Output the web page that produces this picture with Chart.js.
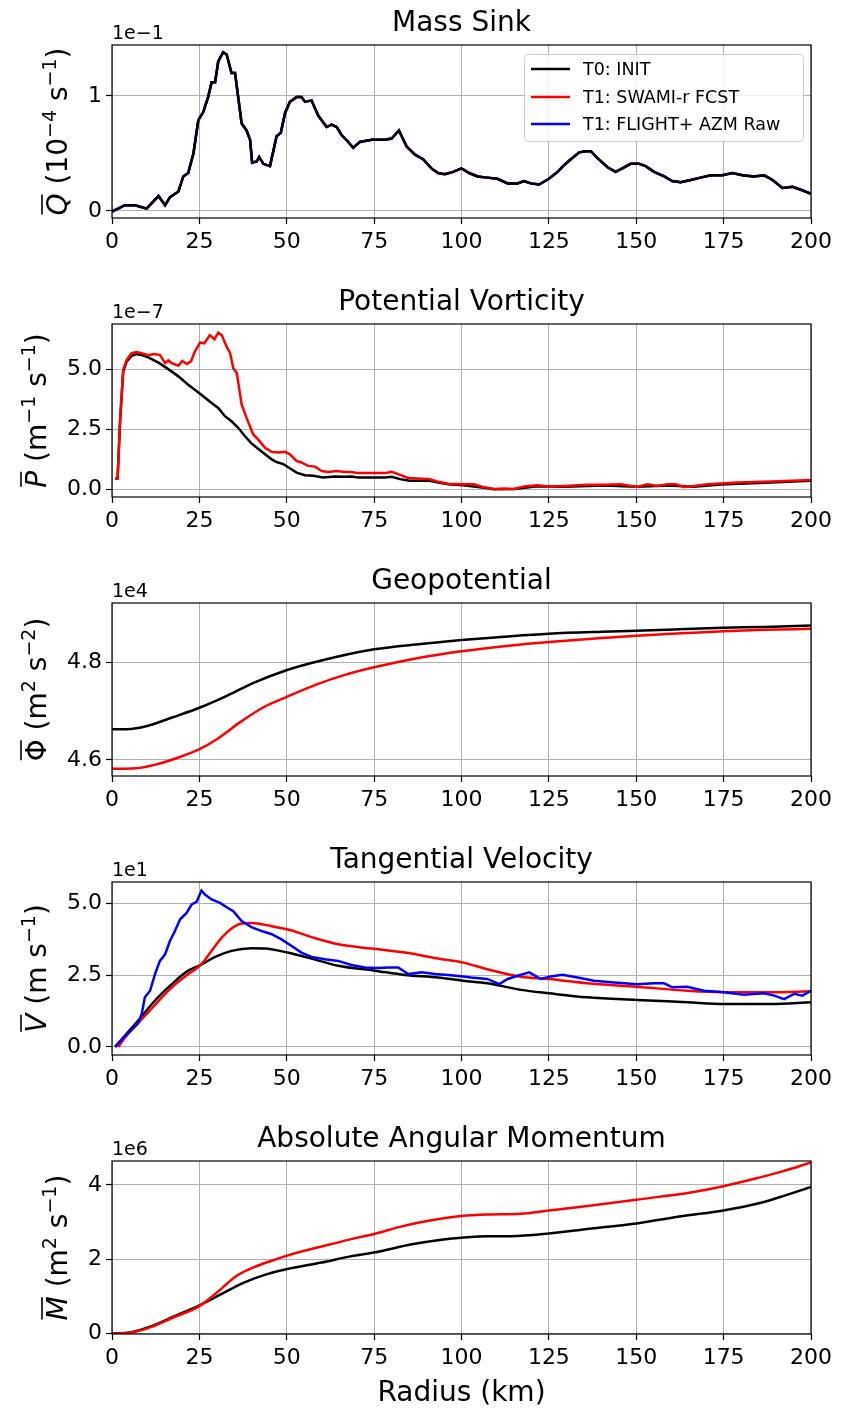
<!DOCTYPE html>
<html>
<head>
<meta charset="utf-8">
<script src="https://cdn.jsdelivr.net/npm/chart.js@4.4.0/dist/chart.umd.min.js"></script>
<style>
  body { margin: 0; background: #fff; }
  #wrap { position: relative; width: 843px; height: 1412px; }
  canvas { position: absolute; left: 0; }
</style>
</head>
<body>
<div id="wrap">
  <canvas id="massChart" width="843" height="279" style="top:0px;width:843px;height:279px"></canvas>
  <canvas id="pvChart" width="843" height="279" style="top:279px;width:843px;height:279px"></canvas>
  <canvas id="geoChart" width="843" height="279" style="top:558px;width:843px;height:279px"></canvas>
  <canvas id="velChart" width="843" height="279" style="top:837px;width:843px;height:279px"></canvas>
  <canvas id="amChart" width="843" height="296" style="top:1116px;width:843px;height:296px"></canvas>
</div>
<script>
const radiusTicks = [0, 25, 50, 75, 100, 125, 150, 175, 200];
const seriesNames = ["T0: INIT", "T1: SWAMI-r FCST", "T1: FLIGHT+ AZM Raw"];
const seriesColors = ["#000000", "#ff0000", "#0000ff"];

// Mass sink (x 1e-1)
const massR = [0, 0.4, 3.7, 6.6, 9.9, 13.3, 15.2, 16.6, 19, 20.4, 21.8, 23.3, 24.7, 26.1, 27.5, 28.5, 29.5, 30.4, 31.8, 32.8, 34.2, 35.2, 37.1, 38.5, 39.5, 40.1, 41.4, 42.1, 43.3, 45.2, 47.1, 48.3, 49.5, 50.9, 52.8, 54.2, 55.2, 57.1, 59, 61.4, 62.8, 64.3, 65.7, 67.6, 69, 70.9, 74.3, 78, 80, 82.1, 84.3, 86.7, 89, 91.4, 93.3, 95.2, 97.6, 100, 102.2, 104.6, 107.4, 110.3, 113.2, 116, 117.9, 119.8, 122.2, 125, 127.5, 129.4, 131.7, 133.7, 135.5, 137, 138.9, 141.8, 144.1, 146, 148.4, 150.8, 152.7, 155.1, 158, 160.3, 162.7, 165.6, 168.4, 171.3, 174.6, 177.5, 180.4, 183.7, 186.6, 189, 191.8, 194.7, 197.5, 200];
const massInit = [0, 0, 0.05, 0.05, 0.02, 0.13, 0.05, 0.12, 0.17, 0.30, 0.33, 0.50, 0.79, 0.86, 0.99, 1.12, 1.12, 1.30, 1.38, 1.36, 1.20, 1.20, 0.76, 0.70, 0.62, 0.42, 0.43, 0.47, 0.41, 0.39, 0.65, 0.68, 0.85, 0.95, 0.99, 0.99, 0.95, 0.96, 0.83, 0.73, 0.75, 0.73, 0.66, 0.60, 0.55, 0.60, 0.62, 0.62, 0.63, 0.70, 0.56, 0.49, 0.45, 0.37, 0.33, 0.32, 0.34, 0.37, 0.33, 0.30, 0.29, 0.28, 0.24, 0.24, 0.26, 0.24, 0.23, 0.28, 0.34, 0.40, 0.46, 0.51, 0.52, 0.52, 0.46, 0.38, 0.34, 0.37, 0.41, 0.41, 0.39, 0.34, 0.30, 0.26, 0.25, 0.27, 0.29, 0.31, 0.31, 0.33, 0.31, 0.30, 0.31, 0.27, 0.20, 0.21, 0.18, 0.15];
const massTicks = [0, 1];

// Potential vorticity (x 1e-7)
const pvInitR = [0.9, 1.6, 2.3, 3.2, 4.2, 5.6, 7.1, 8.5, 10.4, 13.3, 16.1, 19, 21.8, 25.2, 28.5, 30.4, 32.3, 34.2, 36.1, 38, 39.9, 41.8, 43.8, 45.7, 47.1, 49, 50.9, 52.8, 55.2, 57.6, 60.4, 63.8, 66.6, 68.5, 70.4, 74.3, 78.1, 80, 82.4, 85.2, 88.6, 90.9, 93.3, 96.2, 100.5, 106.5, 109.3, 115.1, 121.7, 129.4, 140.8, 150.3, 158.9, 166.5, 174.2, 188.5, 200];
const pvInit = [0.47, 0.47, 2.77, 4.90, 5.32, 5.55, 5.62, 5.58, 5.49, 5.27, 5.00, 4.70, 4.35, 3.98, 3.60, 3.39, 3.05, 2.84, 2.57, 2.23, 1.92, 1.70, 1.47, 1.26, 1.15, 1.06, 0.89, 0.71, 0.60, 0.58, 0.51, 0.55, 0.54, 0.55, 0.51, 0.51, 0.51, 0.54, 0.44, 0.37, 0.37, 0.37, 0.30, 0.23, 0.19, 0.08, 0.02, 0.03, 0.15, 0.12, 0.18, 0.12, 0.18, 0.13, 0.22, 0.30, 0.37];
const pvFcstR = [0.9, 1.6, 2.3, 3.2, 4.2, 5.6, 7.1, 8.5, 10.4, 11.8, 13.7, 15.2, 16.1, 17.1, 19, 20.1, 21.4, 22.6, 23.7, 25.2, 26.4, 28, 29.3, 30.4, 31.4, 32.8, 33.8, 34.7, 35.7, 37.1, 38.5, 40.4, 41.8, 43.8, 45.7, 47.6, 49.5, 50.9, 52.8, 54.2, 56.1, 58.1, 60, 61.9, 64.3, 66.6, 68.5, 70.4, 74.3, 78.1, 80, 81.9, 84.7, 87.6, 90.9, 93.3, 96.2, 100.5, 103.6, 106.5, 109.3, 112.2, 115.1, 117.9, 121.7, 125, 129.4, 136, 140.8, 145.6, 150.3, 153.2, 156, 158.9, 161.3, 163.7, 166.5, 170.4, 174.2, 178.9, 188.5, 200];
const pvFcst = [0.47, 0.47, 2.9, 4.97, 5.38, 5.66, 5.71, 5.66, 5.58, 5.63, 5.59, 5.25, 5.36, 5.25, 5.14, 5.34, 5.21, 5.32, 5.73, 6.10, 6.07, 6.41, 6.24, 6.51, 6.41, 5.93, 5.66, 5.04, 4.84, 3.53, 2.98, 2.29, 2.09, 1.74, 1.57, 1.54, 1.57, 1.47, 1.20, 1.13, 0.99, 0.96, 0.78, 0.74, 0.78, 0.74, 0.74, 0.69, 0.69, 0.69, 0.74, 0.65, 0.49, 0.47, 0.44, 0.33, 0.25, 0.23, 0.23, 0.10, 0.03, 0.05, 0.03, 0.14, 0.19, 0.14, 0.16, 0.21, 0.21, 0.23, 0.12, 0.23, 0.16, 0.23, 0.23, 0.12, 0.16, 0.23, 0.26, 0.30, 0.34, 0.40];
const pvTicks = [0, 2.5, 5];

// Geopotential (x 1e4)
const geoInitR = [0, 4.3, 10.7, 17.2, 25, 32.7, 40.5, 49.9, 59.9, 75, 88.4, 100, 114.2, 125, 140.1, 150, 166, 174.9, 186.7, 200];
const geoInit = [4.663, 4.663, 4.671, 4.687, 4.707, 4.731, 4.758, 4.784, 4.804, 4.827, 4.838, 4.846, 4.854, 4.859, 4.863, 4.865, 4.869, 4.871, 4.873, 4.876];
const geoFcstR = [0, 6.9, 13.3, 19.8, 25, 30.1, 36.6, 43.1, 49.9, 58.6, 66.4, 75, 88.4, 100, 114.2, 125, 140.1, 150, 166, 174.9, 186.7, 200];
const geoFcst = [4.582, 4.583, 4.592, 4.607, 4.622, 4.643, 4.677, 4.707, 4.729, 4.755, 4.774, 4.790, 4.810, 4.823, 4.835, 4.842, 4.850, 4.855, 4.861, 4.864, 4.867, 4.869];
const geoTicks = [4.6, 4.8];

// Tangential velocity (x 1e1)
const velInitR = [0.9, 3.7, 7.5, 12.3, 17.1, 21.8, 25.4, 29.5, 34.2, 39.9, 43.8, 50.2, 57.1, 64.7, 75.2, 83.8, 93.3, 100.5, 107.4, 117, 125.1, 136, 150.1, 164.6, 175.1, 188.5, 200];
const velInit = [0, 0.40, 0.92, 1.62, 2.19, 2.66, 2.86, 3.14, 3.35, 3.44, 3.43, 3.29, 3.08, 2.83, 2.66, 2.51, 2.42, 2.31, 2.22, 1.99, 1.87, 1.73, 1.64, 1.56, 1.50, 1.50, 1.56];
const velFcstR = [1.8, 3.7, 7.5, 12.3, 17.1, 21.8, 25.4, 28.5, 31.4, 34.2, 37.1, 39.9, 45.7, 51.4, 57.1, 64.7, 74.3, 83.8, 93.3, 100.5, 107.4, 117, 125.1, 136, 150.1, 164.6, 175.1, 188.5, 200];
const velFcst = [0, 0.32, 0.83, 1.47, 2.08, 2.54, 2.86, 3.35, 3.81, 4.13, 4.30, 4.32, 4.21, 4.06, 3.83, 3.58, 3.43, 3.29, 3.08, 2.94, 2.71, 2.45, 2.37, 2.22, 2.10, 1.96, 1.91, 1.91, 1.94];
const velRawR = [0.9, 3.7, 7.5, 8.5, 9.4, 10.9, 12.3, 13.7, 15.2, 16.6, 18, 19.5, 21.4, 22.8, 24.2, 25.6, 26.6, 28.5, 30.9, 32.8, 34.7, 37.1, 39.9, 42.8, 45.7, 48.5, 51.4, 54.2, 57.1, 60.9, 64.7, 68.5, 72.4, 76.2, 79, 81.9, 84.8, 88.6, 92.4, 96.2, 100.5, 102.7, 107.4, 110.8, 113.2, 116, 119.4, 122.7, 125.5, 128.9, 133.2, 137.9, 143.7, 150.3, 155.1, 158, 160.3, 164.6, 169.4, 175.1, 180.8, 186.6, 189.5, 192.3, 195.2, 197.5, 200];
const velRaw = [0, 0.37, 0.83, 1.15, 1.73, 1.96, 2.54, 3.00, 3.23, 3.70, 4.04, 4.45, 4.68, 4.97, 5.06, 5.45, 5.31, 5.14, 5.02, 4.87, 4.73, 4.39, 4.18, 4.04, 3.93, 3.75, 3.52, 3.29, 3.14, 3.06, 3.00, 2.86, 2.77, 2.75, 2.77, 2.77, 2.54, 2.60, 2.54, 2.51, 2.46, 2.42, 2.37, 2.19, 2.37, 2.48, 2.60, 2.37, 2.46, 2.52, 2.42, 2.31, 2.25, 2.19, 2.22, 2.22, 2.08, 2.10, 1.96, 1.91, 1.82, 1.87, 1.79, 1.67, 1.85, 1.79, 1.96];
const velTicks = [0, 2.5, 5];

// Absolute angular momentum (x 1e6)
const amInitR = [0, 5.6, 10.7, 17.2, 25, 31.4, 37.9, 44.4, 49.9, 59.9, 68.9, 75, 85.8, 94.8, 100, 107.8, 114.2, 125, 134.9, 150, 163.4, 174.9, 185.4, 193.1, 200];
const amInit = [0, 0.04, 0.18, 0.44, 0.76, 1.07, 1.38, 1.60, 1.73, 1.91, 2.09, 2.18, 2.40, 2.53, 2.58, 2.62, 2.62, 2.69, 2.80, 2.96, 3.16, 3.31, 3.51, 3.73, 3.94];
const amFcstR = [0, 5.6, 10.7, 17.2, 25, 30.1, 35.3, 40.5, 45.7, 49.9, 54.7, 62.5, 70.2, 75, 83.2, 91, 100, 107.8, 116.8, 125, 134.9, 150, 166, 174.9, 185.4, 191.8, 200];
const amFcst = [0, 0.03, 0.16, 0.42, 0.74, 1.11, 1.53, 1.78, 1.96, 2.09, 2.22, 2.40, 2.58, 2.68, 2.89, 3.04, 3.16, 3.20, 3.22, 3.31, 3.42, 3.60, 3.80, 3.96, 4.20, 4.36, 4.60];
const amTicks = [0, 2, 4];

const FONT = "'DejaVu Sans', sans-serif";
Chart.defaults.font.family = FONT;
Chart.defaults.color = "#000";

const PLOT_TOP = 45;
const PLOT_BOTTOM = 218;

function drawYLabel(ctx, parts, x, cy) {
  const size = 28;
  const supSize = 19;
  let total = 0;
  const widths = parts.map(p => {
    ctx.font = (p.italic ? "italic " : "") + (p.sup ? supSize : size) + "px " + FONT;
    const w = ctx.measureText(p.t).width;
    total += w;
    return w;
  });
  ctx.save();
  ctx.translate(x, cy);
  ctx.rotate(-Math.PI / 2);
  ctx.textAlign = "left";
  ctx.textBaseline = "alphabetic";
  let pos = -total / 2;
  parts.forEach((p, i) => {
    ctx.font = (p.italic ? "italic " : "") + (p.sup ? supSize : size) + "px " + FONT;
    ctx.fillText(p.t, pos, p.sup ? -11 : 0);
    if (p.over) {
      ctx.lineWidth = 1.6;
      ctx.beginPath();
      ctx.moveTo(pos + 1, -25);
      ctx.lineTo(pos + widths[i] - 1, -25);
      ctx.stroke();
    }
    pos += widths[i];
  });
  ctx.restore();
}

function drawLegend(ctx) {
  ctx.save();
  ctx.fillStyle = "rgba(255,255,255,0.8)";
  ctx.strokeStyle = "#cccccc";
  ctx.lineWidth = 1;
  ctx.beginPath();
  ctx.roundRect(524.5, 54.5, 279, 87, 4);
  ctx.fill();
  ctx.stroke();
  ctx.font = "17.5px " + FONT;
  ctx.textAlign = "left";
  ctx.textBaseline = "middle";
  const rows = [69, 97, 124];
  seriesNames.forEach((name, i) => {
    ctx.strokeStyle = seriesColors[i];
    ctx.lineWidth = 2.5;
    ctx.beginPath();
    ctx.moveTo(531, rows[i]);
    ctx.lineTo(570, rows[i]);
    ctx.stroke();
    ctx.fillStyle = "#000";
    ctx.fillText(name, 583, rows[i] + 1);
  });
  ctx.restore();
}

const panelTextPlugin = {
  id: "panelText",
  afterDraw(chart, args, opts) {
    const ctx = chart.ctx;
    const area = chart.chartArea;
    ctx.save();
    ctx.strokeStyle = "#000";
    ctx.lineWidth = 1.2;
    ctx.strokeRect(area.left, area.top, area.right - area.left, area.bottom - area.top);

    ctx.fillStyle = "#000";
    ctx.textAlign = "center";
    ctx.textBaseline = "alphabetic";
    ctx.font = "28px " + FONT;
    ctx.fillText(opts.title, (area.left + area.right) / 2, area.top - 14);

    ctx.textAlign = "left";
    ctx.font = "19px " + FONT;
    ctx.fillText(opts.offset, area.left, area.top - 6);

    drawYLabel(ctx, opts.ylabel, opts.ylabelX, (area.top + area.bottom) / 2);

    if (opts.xlabel) {
      ctx.textAlign = "center";
      ctx.font = "28px " + FONT;
      ctx.fillText(opts.xlabel, (area.left + area.right) / 2, chart.height - 11);
    }
    if (opts.legend) {
      drawLegend(ctx);
    }
    ctx.restore();
  }
};

function makeLine(rs, vals, colorIndex, order, smooth) {
  return {
    label: seriesNames[colorIndex],
    data: rs.map((r, i) => ({ x: r, y: vals[i] })),
    borderColor: seriesColors[colorIndex],
    borderWidth: 2.5,
    pointRadius: 0,
    fill: false,
    order: order,
    cubicInterpolationMode: smooth ? "monotone" : "default",
    tension: 0,
  };
}

function makeChart(canvasId, datasets, yMin, yMax, yTicks, decimals, text) {
  const canvas = document.getElementById(canvasId);
  const canvasHeight = canvas.height;
  return new Chart(canvas.getContext("2d"), {
    type: "line",
    data: { datasets: datasets },
    options: {
      responsive: false,
      animation: false,
      events: [],
      layout: { padding: { left: 0, right: 32, top: PLOT_TOP, bottom: 0 } },
      plugins: {
        legend: { display: false },
        tooltip: { enabled: false },
        panelText: text,
      },
      scales: {
        x: {
          type: "linear",
          min: 0,
          max: 200,
          afterBuildTicks: (scale) => {
            scale.ticks = radiusTicks.map(v => ({ value: v }));
          },
          ticks: {
            font: { size: 22 },
            color: "#000",
            padding: 5,
            maxRotation: 0,
            autoSkip: false,
          },
          grid: { color: "#b0b0b0", lineWidth: 1, tickLength: 6, tickColor: "#000", tickWidth: 1.2 },
          border: { display: false },
          afterFit: (scale) => { scale.height = canvasHeight - PLOT_BOTTOM; },
        },
        y: {
          type: "linear",
          min: yMin,
          max: yMax,
          afterBuildTicks: (scale) => {
            scale.ticks = yTicks.map(v => ({ value: v }));
          },
          ticks: {
            font: { size: 22 },
            color: "#000",
            padding: 4,
            callback: (v) => v.toFixed(decimals),
          },
          grid: { color: "#b0b0b0", lineWidth: 1, tickLength: 6, tickColor: "#000", tickWidth: 1.2 },
          border: { display: false },
          afterFit: (scale) => { scale.width = 112; },
        },
      },
    },
    plugins: [panelTextPlugin],
  });
}

document.addEventListener("DOMContentLoaded", () => {
  makeChart("massChart", [
    makeLine(massR, massInit, 0, 0, false),
    makeLine(massR, massInit, 1, 2, false),
    makeLine(massR, massInit, 2, 1, false),
  ], -0.061, 1.443, massTicks, 0, {
    title: "Mass Sink",
    offset: "1e\u22121",
    ylabelX: 67,
    ylabel: [{ t: "Q", italic: true, over: true }, { t: " (10" }, { t: "\u22124", sup: true }, { t: " s" }, { t: "\u22121", sup: true }, { t: ")" }],
    legend: true,
  });

  makeChart("pvChart", [
    makeLine(pvFcstR, pvFcst, 1, 0, false),
    makeLine(pvInitR, pvInit, 0, 1, false),
  ], -0.30, 6.87, pvTicks, 1, {
    title: "Potential Vorticity",
    offset: "1e\u22127",
    ylabelX: 46,
    ylabel: [{ t: "P", italic: true, over: true }, { t: " (m" }, { t: "\u22121", sup: true }, { t: " s" }, { t: "\u22121", sup: true }, { t: ")" }],
  });

  makeChart("geoChart", [
    makeLine(geoFcstR, geoFcst, 1, 0, true),
    makeLine(geoInitR, geoInit, 0, 1, true),
  ], 4.567, 4.922, geoTicks, 1, {
    title: "Geopotential",
    offset: "1e4",
    ylabelX: 46,
    ylabel: [{ t: "\u03A6", over: true }, { t: " (m" }, { t: "2", sup: true }, { t: " s" }, { t: "\u22122", sup: true }, { t: ")" }],
  });

  makeChart("velChart", [
    makeLine(velRawR, velRaw, 2, 0, false),
    makeLine(velFcstR, velFcst, 1, 1, true),
    makeLine(velInitR, velInit, 0, 2, true),
  ], -0.28, 5.75, velTicks, 1, {
    title: "Tangential Velocity",
    offset: "1e1",
    ylabelX: 46,
    ylabel: [{ t: "V", italic: true, over: true }, { t: " (m s" }, { t: "\u22121", sup: true }, { t: ")" }],
  });

  makeChart("amChart", [
    makeLine(amFcstR, amFcst, 1, 0, true),
    makeLine(amInitR, amInit, 0, 1, true),
  ], -0.01, 4.64, amTicks, 0, {
    title: "Absolute Angular Momentum",
    offset: "1e6",
    ylabelX: 67,
    ylabel: [{ t: "M", italic: true, over: true }, { t: " (m" }, { t: "2", sup: true }, { t: " s" }, { t: "\u22121", sup: true }, { t: ")" }],
    xlabel: "Radius (km)",
  });
});
</script>
</body>
</html>
